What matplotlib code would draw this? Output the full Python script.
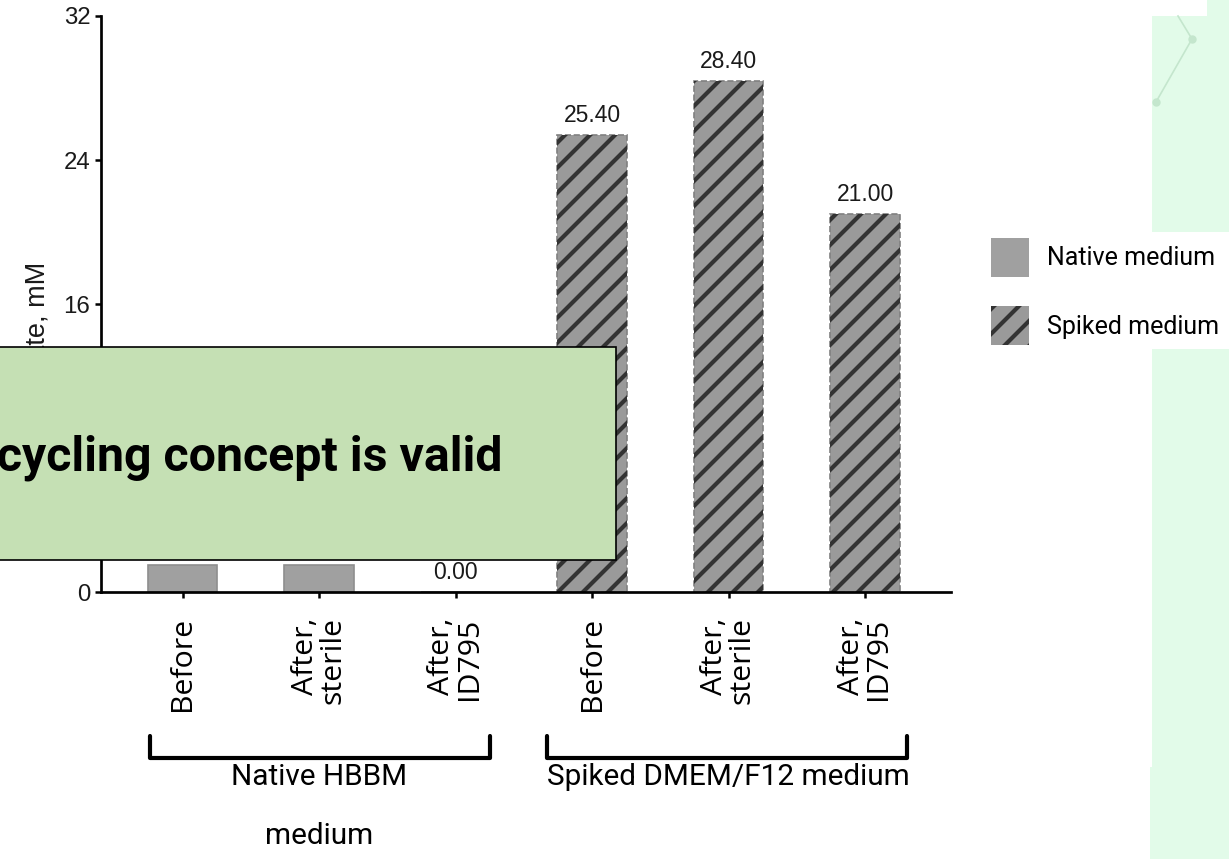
import matplotlib
matplotlib.use('Agg')
import matplotlib.pyplot as plt
import matplotlib.transforms as mtransforms
from matplotlib.patches import Patch, Rectangle
from matplotlib.lines import Line2D
import numpy as np

# data
conditions = ['Before', 'After,\nsterile', 'After,\nID795',
              'Before', 'After,\nsterile', 'After,\nID795']
native_vals = [1.5, 1.5, 0.0]
spiked_vals = [25.4, 28.4, 21.0]
series_names = ['Native medium', 'Spiked medium']
group_names = ['Native HBBM', 'Spiked DMEM/F12 medium']
y_ticks = [0, 8, 16, 24, 32]
# the "8" label sits under the callout box in the slide
y_tick_labels = ['0', '', '16', '24', '32']

DPI = 150
W, H = 1229, 859


def fx(px):
    return px / W


def fy(py):
    return 1 - py / H


plt.rcParams['hatch.linewidth'] = 2.0

fig = plt.figure(figsize=(W / DPI, H / DPI), dpi=DPI)
fig.patch.set_facecolor('white')

ax = fig.add_axes([fx(100.7), fy(592.3), fx(951) - fx(100.7), fy(16) - fy(592.3)])

x = np.arange(len(conditions))
xn, xs = x[:3], x[3:]
ax.bar(xn, native_vals, width=0.51, color='#a0a0a0', edgecolor='#8e8e8e', linewidth=0.8)
ax.bar(xs, spiked_vals, width=0.51, color='#9a9a9a', edgecolor='#808080',
       linewidth=0.8, linestyle='--')
ax.bar(xs, spiked_vals, width=0.51, fill=False, hatch='//', edgecolor='#333333', linewidth=0)

for xi, v in zip(x, native_vals + spiked_vals):
    ax.annotate(f'{v:.2f}', (xi, v), xytext=(0, 4), textcoords='offset points',
                ha='center', va='bottom', fontsize=11, family='Liberation Sans',
                color='#1a1a1a')

ax.set_xlim(-0.6, 5.63)
ax.set_ylim(0, 32)
ax.set_yticks(y_ticks)
ax.set_yticklabels(y_tick_labels)
for s in ['top', 'right']:
    ax.spines[s].set_visible(False)
for s in ['left', 'bottom']:
    ax.spines[s].set_linewidth(1.3)
ax.tick_params(axis='y', direction='out', length=3, width=1.2, pad=2,
               labelsize=11.5, labelcolor='#1a1a1a')
for lab in ax.get_yticklabels():
    lab.set_family('Liberation Sans')
ax.set_xticks(x)
ax.set_xticklabels(conditions, rotation=90, fontsize=14.5, family='Open Sans',
                   va='top', ha='center', multialignment='right', linespacing=0.95)
ax.tick_params(axis='x', direction='out', length=3, width=1.2, pad=9)

fig.text(fx(38), fy(262), 'Lactate, mM', rotation=90, ha='center', va='top',
         fontsize=13, family='Liberation Sans', color='#1a1a1a')

# group brackets and labels
trans = mtransforms.blended_transform_factory(ax.transData, fig.transFigure)
for (x0, x1) in [(-0.24, 2.25), (2.67, 5.31)]:
    ax.add_line(Line2D([x0, x0, x1, x1], [fy(736), fy(758), fy(758), fy(736)],
                       transform=trans, color='black', lw=2,
                       solid_joinstyle='round', solid_capstyle='round', clip_on=False))
ax.text(xn.mean(), fy(777), group_names[0], transform=trans, ha='center', va='center',
        fontsize=14.3, family='Roboto', clip_on=False)
ax.text(xn.mean(), fy(836), 'medium', transform=trans, ha='center', va='center',
        fontsize=14.3, family='Roboto', clip_on=False)
ax.text(xs.mean(), fy(777), group_names[1], transform=trans, ha='center', va='center',
        fontsize=14.3, family='Roboto', clip_on=False)

# legend
handles = [Patch(facecolor='#a0a0a0', edgecolor='none'),
           Patch(facecolor='#9a9a9a', edgecolor='#333333', hatch='//', linewidth=0)]
fig.legend(handles, series_names, loc='upper left', bbox_to_anchor=(fx(991), fy(238)),
           frameon=False, borderpad=0, borderaxespad=0, handlelength=1.5,
           handleheight=2.02, handletextpad=0.75, labelspacing=1.18,
           prop={'family': 'Roboto', 'size': 12})

# slide background pieces on the right
green = '#e2fbe9'
for (x0, y0, x1, y1) in [(1152, 16, 1229, 232), (1207, 0, 1229, 16),
                         (1152, 349, 1229, 767), (1150, 767, 1229, 859)]:
    fig.add_artist(Rectangle((fx(x0), fy(y1)), (x1 - x0) / W, (y1 - y0) / H,
                             transform=fig.transFigure, facecolor=green,
                             edgecolor='none', zorder=0.5))
fig.add_artist(Line2D([fx(1178), fx(1192), fx(1156)], [fy(16), fy(39), fy(102)],
                      transform=fig.transFigure, color='#c4e6cd', lw=0.8,
                      marker='o', markersize=3, markevery=[1, 2]))

# overlay callout box
fig.add_artist(Rectangle((fx(-2), fy(560)), fx(618), fy(347) - fy(560),
                         transform=fig.transFigure, facecolor='#c5e0b4',
                         edgecolor='black', linewidth=0.8, zorder=5))
fig.text(fx(503), fy(470), 'Recycling concept is valid', ha='right', va='baseline',
         fontsize=23.2, family='Roboto', weight='bold', zorder=6)

fig.savefig('out.png', dpi=DPI)
